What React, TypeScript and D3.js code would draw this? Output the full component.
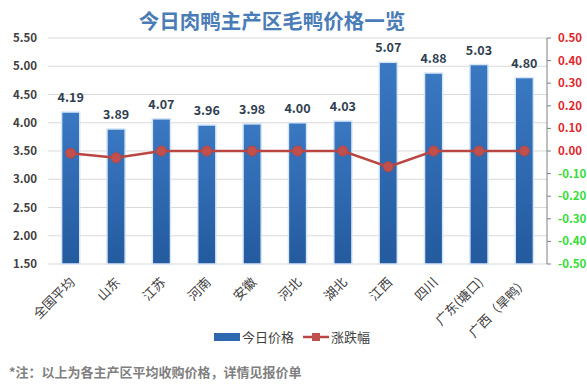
import React from 'react';
import * as d3 from 'd3';

const categories = ['全国平均', '山东', '江苏', '河南', '安徽', '河北', '湖北', '江西', '四川', '广东(塘口)', '广西（旱鸭）'];
const prices = [4.19, 3.89, 4.07, 3.96, 3.98, 4.0, 4.03, 5.07, 4.88, 5.03, 4.8];
const changes = [-0.01, -0.03, 0.0, 0.0, 0.0, 0.0, 0.0, -0.07, 0.0, 0.0, 0.0];
const leftTicks = [1.5, 2.0, 2.5, 3.0, 3.5, 4.0, 4.5, 5.0, 5.5];
const rightTicks = [-0.5, -0.4, -0.3, -0.2, -0.1, 0, 0.1, 0.2, 0.3, 0.4, 0.5];

const W = 587;
const H = 388;
const margin = { top: 38, right: 40, bottom: 124, left: 48 };
const font = '"Microsoft YaHei", "Noto Sans CJK SC", sans-serif';

const App = () => {
  const x = d3
    .scaleBand()
    .domain(categories)
    .range([margin.left, W - margin.right])
    .paddingInner(0.6)
    .paddingOuter(0.3);

  const y = d3.scaleLinear().domain([1.5, 5.5]).range([H - margin.bottom, margin.top]);
  const y2 = d3.scaleLinear().domain([-0.5, 0.5]).range([H - margin.bottom, margin.top]);

  const line = d3
    .line<number>()
    .x((d, i) => x(categories[i])! + x.bandwidth() / 2)
    .y((d) => y2(d));

  const right = W - margin.right;

  return (
    <svg width={W} height={H} style={{ position: 'absolute', left: 0, top: 0 }} fontFamily={font}>
      <defs>
        <linearGradient id="barGrad" x1="0" y1="0" x2="0" y2="1">
          <stop offset="0%" stopColor="#3a78c2" />
          <stop offset="100%" stopColor="#245a9e" />
        </linearGradient>
      </defs>
      <rect width={W} height={H} fill="#fff" />

      <text x={272} y={29} textAnchor="middle" fontSize={20.5} fontWeight="bold" fill="#4a7cb8">
        今日肉鸭主产区毛鸭价格一览
      </text>

      {leftTicks.map((t) => (
        <g key={t}>
          <line x1={margin.left} x2={right} y1={y(t)} y2={y(t)} stroke="#d9d9d9" />
          <text x={37} y={y(t) + 4} textAnchor="end" fontSize={11.5} fontWeight="bold" fill="#404040">
            {t.toFixed(2)}
          </text>
        </g>
      ))}

      {categories.map((c, i) => (
        <g key={c}>
          <rect
            x={x(c)}
            y={y(prices[i])}
            width={x.bandwidth()}
            height={y(1.5) - y(prices[i])}
            fill="url(#barGrad)"
            stroke="#d6e6f7"
            strokeWidth={1.5}
          />
          <text
            x={x(c)! + x.bandwidth() / 2}
            y={y(prices[i]) - 10}
            textAnchor="middle"
            fontSize={12.5}
            fontWeight="bold"
            fill="#2e3e50"
          >
            {prices[i].toFixed(2)}
          </text>
          <text
            transform={`translate(${x(c)! + x.bandwidth() / 2 + 5},${y(1.5) + 19}) rotate(-45)`}
            textAnchor="end"
            fontSize={13}
            fill="#404040"
          >
            {c}
          </text>
        </g>
      ))}

      <path d={line(changes) || ''} fill="none" stroke="#b94643" strokeWidth={2.5} />
      {changes.map((v, i) => (
        <circle
          key={i}
          cx={x(categories[i])! + x.bandwidth() / 2}
          cy={y2(v)}
          r={5}
          fill="#c0504d"
          stroke="#b94643"
        />
      ))}

      <line x1={right} x2={right} y1={margin.top} y2={y(1.5)} stroke="#7f7f7f" />
      {rightTicks.map((t) => (
        <g key={t}>
          <line x1={right} x2={right + 4} y1={y2(t)} y2={y2(t)} stroke="#7f7f7f" />
          <text
            x={right + 11}
            y={y2(t) + 4}
            fontSize={11.5}
            fontWeight="bold"
            fill={t < -0.001 ? '#33dd33' : '#e0252a'}
          >
            {t.toFixed(2)}
          </text>
        </g>
      ))}

      <rect x={214} y={333} width={26} height={8} fill="#2e69b0" />
      <text x={242} y={341.5} fontSize={13} fill="#404040">
        今日价格
      </text>
      <line x1={303} x2={329} y1={337} y2={337} stroke="#b94643" strokeWidth={2.5} />
      <rect x={312} y={333} width={8} height={8} fill="#c0504d" />
      <text x={331} y={341.5} fontSize={13} fill="#404040">
        涨跌幅
      </text>

      <text x={9} y={377} fontSize={13} fontWeight="bold" fill="#808080">
        *注：以上为各主产区平均收购价格，详情见报价单
      </text>
    </svg>
  );
};

export default App;
